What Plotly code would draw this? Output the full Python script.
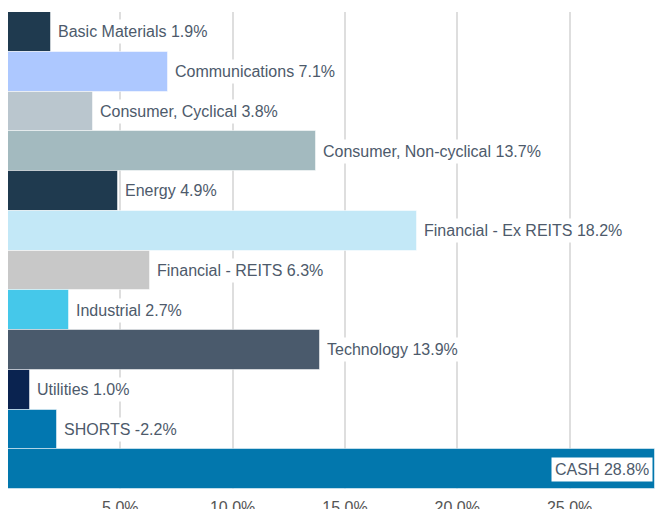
import plotly.graph_objects as go

categories = ["Basic Materials", "Communications", "Consumer, Cyclical",
              "Consumer, Non-cyclical", "Energy", "Financial - Ex REITS",
              "Financial - REITS", "Industrial", "Technology", "Utilities",
              "SHORTS", "CASH"]
values = [1.9, 7.1, 3.8, 13.7, 4.9, 18.2, 6.3, 2.7, 13.9, 1.0, -2.2, 28.8]
colors = ["#1f3a4f", "#adc8ff", "#bac6ce", "#a3babf", "#1f3a4f", "#c3e8f7",
          "#c8c8c8", "#45c8ea", "#4a5a6c", "#0a2350", "#0277b0", "#0277ad"]
tick_vals = [5, 10, 15, 20, 25]
tick_text = ["5.0%", "10.0%", "15.0%", "20.0%", "25.0%"]

bar_len = [abs(v) for v in values]

fig = go.Figure()
fig.add_trace(go.Bar(
    y=categories, x=bar_len, orientation="h",
    marker=dict(color=colors, line=dict(color="rgba(255,255,255,0.5)", width=1)),
    hoverinfo="skip", showlegend=False,
))

annotations = []
for i, (c, v, L) in enumerate(zip(categories, values, bar_len)):
    text = f"{c} {v:.1f}%"
    inside = (i == len(categories) - 1)
    annotations.append(dict(
        x=L, y=c, xref="x", yref="y", text=text, showarrow=False,
        xanchor="right" if inside else "left",
        xshift=-2 if inside else 3,
        bgcolor="white", borderpad=3,
        font=dict(family="Liberation Sans, Arial", size=16, color="#4d5a6b"),
    ))

# page body adds an 8px offset; margins are chosen so the plot area lands
# at x 8..655, y 12..489 in the window
fig.update_layout(
    width=672, height=509,
    margin=dict(l=0, r=25, t=4, b=28, autoexpand=False),
    paper_bgcolor="white", plot_bgcolor="white",
    bargap=0,
    annotations=annotations,
    xaxis=dict(range=[0, 28.8], tickvals=tick_vals, ticktext=tick_text,
               showgrid=True, gridcolor="#dedede", gridwidth=2,
               zeroline=False, showline=False, ticks="outside", ticklen=4,
               tickcolor="rgba(0,0,0,0)", automargin=False,
               tickfont=dict(family="Liberation Sans, Arial", size=16, color="#555555")),
    yaxis=dict(autorange="reversed", showticklabels=False, showgrid=False,
               zeroline=False, showline=False, automargin=False),
)

fig.write_html("out.html")
